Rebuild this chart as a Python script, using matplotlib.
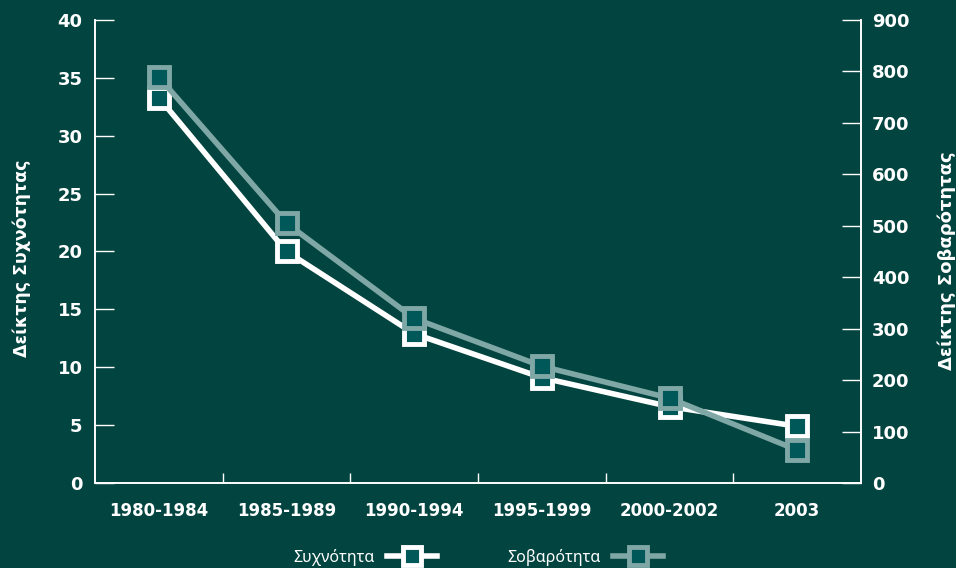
import numpy as np
import matplotlib.pyplot as plt

periods = ['1980-1984', '1985-1989', '1990-1994', '1995-1999', '2000-2002', '2003']
frequency = [33.3, 20.0, 12.9, 9.1, 6.6, 4.9]
severity = [789, 505, 320, 227, 165, 64]

bg = '#02443f'
grey = '#7fa7a6'
face = '#005858'

plt.rcParams['font.family'] = ['DejaVu Sans']

fig = plt.figure(figsize=(9.56, 5.68), dpi=100, facecolor=bg)
ax = fig.add_axes([95 / 956, 1 - 483 / 568, (861 - 95) / 956, (483 - 20) / 568])
ax.set_facecolor(bg)
ax2 = ax.twinx()

x = np.arange(len(periods))
l1, = ax.plot(x, frequency, color='white', lw=4, marker='s', ms=14.5,
              mfc=face, mec='white', mew=3.5, zorder=3)
l2, = ax2.plot(x, severity, color=grey, lw=4, marker='s', ms=14.5,
               mfc=face, mec=grey, mew=3.5, zorder=3)

ax.set_xlim(-0.5, len(periods) - 0.5)
ax.set_ylim(0, 40)
ax2.set_ylim(0, 900)
ax.set_yticks(range(0, 41, 5))
ax2.set_yticks(range(0, 901, 100))

# category labels centred, separator ticks between categories
ax.set_xticks(x)
ax.set_xticklabels(periods, fontsize=12, fontweight='bold', color='white')
ax.tick_params(axis='x', which='major', length=0, pad=14)
ax.set_xticks(np.arange(0.5, len(periods) - 1), minor=True)
ax.tick_params(axis='x', which='minor', direction='in', length=7.5, width=1, color='white')

ax.tick_params(axis='y', direction='in', length=13.5, width=1, color='white',
               labelcolor='white', labelsize=13, pad=9)
ax2.tick_params(axis='y', direction='in', length=13.5, width=1, color='white',
                labelcolor='white', labelsize=13, pad=8)
for lab in ax.get_yticklabels() + ax2.get_yticklabels():
    lab.set_fontweight('bold')

for a in (ax, ax2):
    a.spines['top'].set_visible(False)
    for s in ('left', 'right', 'bottom'):
        a.spines[s].set_color('white')
        a.spines[s].set_linewidth(1.2)

fig.text(22 / 956, 1 - 258 / 568, 'Δείκτης Συχνότητας', rotation=90, ha='center', va='center',
         color='white', fontsize=12.5, fontweight='bold')
fig.text(947 / 956, 1 - 261 / 568, 'Δείκτης Σοβαρότητας', rotation=90, ha='center', va='center',
         color='white', fontsize=13, fontweight='bold')

leg = fig.legend([l1, l2], ['Συχνότητα', 'Σοβαρότητα'], loc='center',
                 bbox_to_anchor=(478 / 956, 1 - 557 / 568), ncol=2, frameon=False,
                 markerfirst=False, handlelength=3.1, columnspacing=4.4, handletextpad=0.8,
                 prop={'family': ['Noto Sans', 'DejaVu Sans'], 'size': 11.5},
                 labelcolor='white', markerscale=0.85)

fig.savefig('out.png', dpi=100, facecolor=bg)
